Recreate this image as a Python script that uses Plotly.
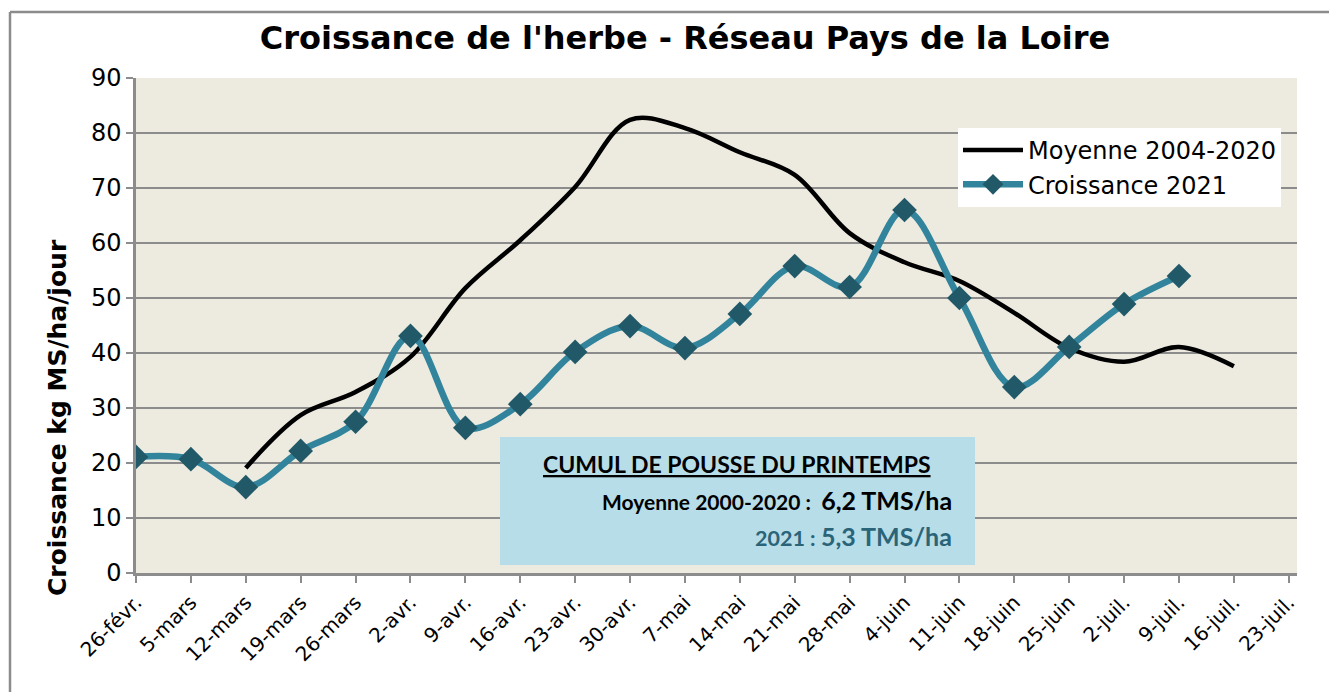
import plotly.graph_objects as go

dates = ["26-févr.", "5-mars", "12-mars", "19-mars", "26-mars", "2-avr.", "9-avr.",
         "16-avr.", "23-avr.", "30-avr.", "7-mai", "14-mai", "21-mai", "28-mai",
         "4-juin", "11-juin", "18-juin", "25-juin", "2-juil.", "9-juil.", "16-juil.", "23-juil."]

moyenne = [None, None, 19.1, 28.7, 32.9, 39.3, 51.8, 60.5, 70.2, 82.4, 80.9, 76.5,
           72.4, 61.8, 56.5, 53.1, 47.3, 40.9, 38.4, 41.1, 37.6, None]

croissance_2021 = [21.1, 20.7, 15.6, 22.2, 27.5, 43.1, 26.4, 30.7, 40.2, 44.9, 40.9,
                   47.1, 55.8, 52.0, 66.0, 50.0, 33.8, 41.1, 48.9, 54.0, None, None]

y_ticks = [0, 10, 20, 30, 40, 50, 60, 70, 80, 90]

idx = list(range(len(dates)))
FONT = "DejaVu Sans"

# page offset (body margin 8px): figure drawn at (8, 8); keep it inside the viewport
W, H = 1321, 684
L, T, R, B = 128, 70, 32, 119
PW, PH = W - L - R, H - T - B


def px(xpage):
    return (xpage - 8 - L) / PW


def py(ypage):
    return (H - B - (ypage - 8)) / PH


fig = go.Figure()
fig.add_trace(go.Scatter(
    x=idx, y=moyenne, mode="lines", name="Moyenne 2004-2020",
    line=dict(color="black", width=4.5, shape="spline", smoothing=1.0),
    connectgaps=False,
))
fig.add_trace(go.Scatter(
    x=idx, y=croissance_2021, mode="lines+markers", name="Croissance 2021",
    line=dict(color="#31849B", width=6.5, shape="spline", smoothing=1.0),
    marker=dict(symbol="diamond", size=19, color="#215968"),
))

# info box
fig.add_shape(type="rect", xref="paper", yref="paper",
              x0=px(500), x1=px(975), y0=py(565), y1=py(437),
              fillcolor="#B7DDE8", line=dict(width=0), layer="above")

fig.add_annotation(xref="paper", yref="paper", x=px(737), y=py(464),
                   text="<b><u>CUMUL DE POUSSE DU PRINTEMPS</u></b>", showarrow=False,
                   font=dict(family="Lato", size=23, color="black"),
                   xanchor="center", yanchor="middle")
fig.add_annotation(xref="paper", yref="paper", x=px(954), y=py(500),
                   text="<b><span style='font-size:21px'>Moyenne 2000-2020 :  </span>6,2 TMS/ha</b>",
                   showarrow=False,
                   font=dict(family="Lato", size=25, color="black"),
                   xanchor="right", yanchor="middle")
fig.add_annotation(xref="paper", yref="paper", x=px(954), y=py(536),
                   text="<b><span style='font-size:21.5px'>2021 : </span>5,3 TMS/ha</b>",
                   showarrow=False,
                   font=dict(family="Lato", size=25, color="#2A6478"),
                   xanchor="right", yanchor="middle")

# y axis title (placed as in the reference, lower than the plot centre)
fig.add_annotation(xref="paper", yref="paper", x=px(57), y=py(418),
                   text="<b>Croissance kg MS/ha/jour</b>", textangle=-90, showarrow=False,
                   font=dict(family=FONT, size=25, color="black"),
                   xanchor="center", yanchor="middle")

# outer chart border (top and left edges visible in the reference)
fig.add_shape(type="line", xref="paper", yref="paper",
              x0=px(10), x1=px(1400), y0=py(12), y1=py(12),
              line=dict(color="#8C8C8C", width=2.5), layer="below")
fig.add_shape(type="line", xref="paper", yref="paper",
              x0=px(10), x1=px(10), y0=py(12), y1=py(760),
              line=dict(color="#8C8C8C", width=2.5), layer="below")

fig.update_layout(
    width=W, height=H,
    margin=dict(l=L, r=R, t=T, b=B),
    paper_bgcolor="white", plot_bgcolor="#EDEAE0",
    title=dict(text="<b>Croissance de l'herbe - Réseau Pays de la Loire</b>",
               x=(685 - 8) / W, xanchor="center", y=(H - (38 - 8)) / H, yanchor="middle",
               font=dict(family=FONT, size=32, color="black")),
    font=dict(family=FONT, color="black"),
    legend=dict(x=px(958), y=py(128), xanchor="left", yanchor="top",
                bgcolor="white", borderwidth=0, font=dict(family=FONT, size=24),
                itemwidth=60),
    showlegend=True,
)

fig.update_xaxes(
    range=[0, 21.15], tickmode="array", tickvals=idx, ticktext=dates,
    tickangle=-45, tickfont=dict(family=FONT, size=20),
    ticks="outside", ticklen=7, tickcolor="#8C8C8C", tickwidth=2,
    showgrid=False, showline=True, linecolor="#8C8C8C", linewidth=2.5, zeroline=False,
)
fig.update_yaxes(
    range=[0, 90], tickvals=y_ticks, tickfont=dict(family=FONT, size=24),
    ticks="outside", ticklen=7, tickcolor="#8C8C8C", tickwidth=2,
    showgrid=True, gridcolor="#8C8C8C", gridwidth=2,
    showline=True, linecolor="#8C8C8C", linewidth=2.5, zeroline=False,
)

fig.write_html("out.html")
